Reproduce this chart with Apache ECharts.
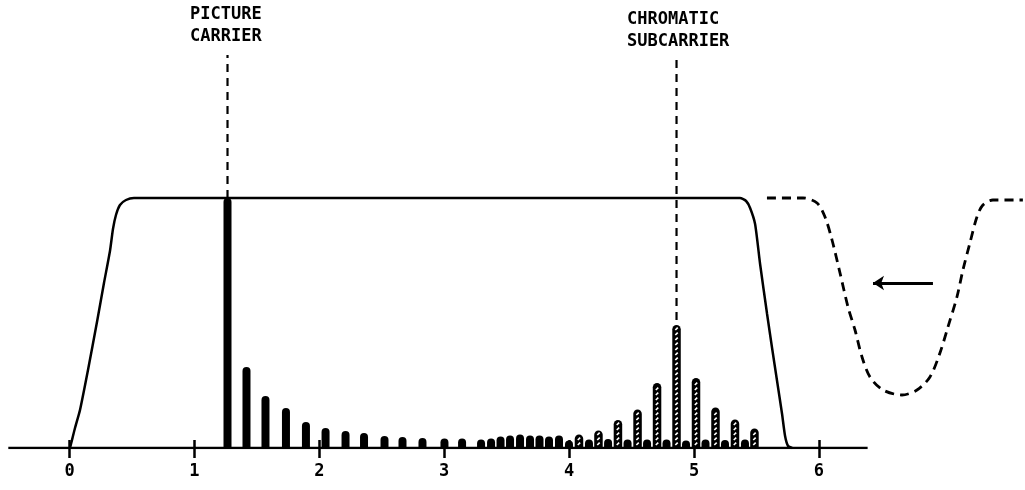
<!DOCTYPE html>
<html>
<head>
<meta charset="utf-8">
<script src="https://cdn.jsdelivr.net/npm/echarts@6/dist/echarts.min.js"></script>
<style>
  html, body { margin: 0; padding: 0; background: #fff; }
  #chart { width: 1025px; height: 490px; }
</style>
</head>
<body>
<div id="chart"></div>
<script>
// ---- data (frequency in MHz, relative amplitude with passband = 100) ----
const tickValues = [0, 1, 2, 3, 4, 5, 6];
const tickLabels = ['0', '1', '2', '3', '4', '5', '6'];

// luminance (black) spectral components
const lumaX = [1.265, 1.417, 1.569, 1.733, 1.893, 2.050, 2.210, 2.358, 2.522, 2.666, 2.826, 3.002, 3.143,
               3.295, 3.375, 3.451, 3.527, 3.607, 3.687, 3.763, 3.839, 3.919, 3.999,
               4.159, 4.312, 4.468, 4.624, 4.780, 4.936, 5.092, 5.248, 5.408];
const lumaY = [100, 32.4, 20.8, 16, 10.4, 8, 6.8, 6, 4.8, 4.4, 4, 3.8, 3.8,
               3.4, 3.8, 4.6, 5, 5.4, 5, 5, 4.6, 5, 3,
               3.4, 3.6, 3.4, 3.4, 3.4, 3, 3.4, 3.2, 3.4];

// chrominance (hatched) spectral components
const chromaX = [4.079, 4.235, 4.391, 4.548, 4.704, 4.860, 5.016, 5.172, 5.328, 5.484];
const chromaY = [5.4, 7, 11.2, 15.4, 26, 49.2, 28, 16.2, 11.4, 7.8];

// receiver passband (solid)
const passX = [0.004, 0.020, 0.044, 0.084, 0.148, 0.220, 0.276, 0.324, 0.348, 0.372, 0.404, 0.452, 0.516,
               5.368, 5.417, 5.449, 5.489, 5.529, 5.585, 5.625, 5.665, 5.705, 5.729, 5.753, 5.786];
const passY = [0, 3.2, 8, 15.2, 31.2, 50.4, 66, 78.8, 87.6, 93.2, 97.2, 99.2, 100,
               100, 98.8, 96, 89.6, 73.6, 53.6, 40, 26.8, 13.6, 4.8, 0.8, 0];

// trap response (dashed)
const trapX = [5.584, 5.873, 5.985, 6.049, 6.105, 6.169, 6.233, 6.289, 6.345, 6.409, 6.513, 6.665,
               6.785, 6.889, 6.969, 7.033, 7.105, 7.153, 7.209, 7.265, 7.313, 7.393, 7.633];
const trapY = [100, 100, 98, 92.4, 83.2, 70, 56.4, 47.2, 36.4, 28.4, 23.2, 21.2,
               23.2, 28.4, 38, 48.4, 60.4, 71.2, 82, 92.4, 97.2, 99.2, 99.2];

// carrier marker lines: [x, yBottom, yTop]
const pictureCarrierLine = [1.265, 100, 157.2];
const chromaCarrierLine = [4.860, 49.2, 157.2];

const arrowFrom = [6.913, 66];
const arrowTo = [6.433, 66];
const baselineX = [-0.49, 6.39];

const annotations = ['PICTURE\nCARRIER', 'CHROMATIC\nSUBCARRIER'];

// ---- chart ----
const zip = (xs, ys) => xs.map((x, i) => [x, ys[i]]);
const chart = echarts.init(document.getElementById('chart'), null, { renderer: 'canvas' });

const labelFont = "'DejaVu Sans Mono', monospace";

const option = {
  animation: false,
  backgroundColor: '#fff',
  grid: { left: 0, right: 0, top: 0, bottom: 42, containLabel: false },
  xAxis: [
    {
      type: 'value', min: -0.5565, max: 7.650, position: 'bottom',
      axisLine: { show: false },
      splitLine: { show: false },
      axisTick: { show: true, inside: true, length: 8, customValues: tickValues,
                  lineStyle: { color: '#000', width: 2.5 } },
      axisLabel: { show: true, customValues: tickValues, margin: 15,
                   formatter: v => tickLabels[tickValues.indexOf(Math.round(v))] || '',
                   color: '#000', fontFamily: labelFont, fontWeight: 'bold', fontSize: 17 }
    },
    {
      type: 'value', min: -0.5565, max: 7.650, position: 'bottom', offset: 0,
      axisLine: { show: false },
      splitLine: { show: false },
      axisTick: { show: true, inside: false, length: 10, customValues: tickValues,
                  lineStyle: { color: '#000', width: 2.5 } },
      axisLabel: { show: false }
    }
  ],
  yAxis: { type: 'value', min: 0, max: 179.2, show: false },
  graphic: [
    { type: 'text', left: 190, top: 4, z: 10,
      style: { text: annotations[0], font: "bold 17px 'DejaVu Sans Mono'", fill: '#000', lineHeight: 21.5 } },
    { type: 'text', left: 627, top: 9, z: 10,
      style: { text: annotations[1], font: "bold 17px 'DejaVu Sans Mono'", fill: '#000', lineHeight: 21.5 } }
  ],
  series: [
    {
      type: 'line', name: 'baseline', data: baselineX.map(x => [x, 0]),
      symbol: 'none', lineStyle: { color: '#000', width: 2.5 }, z: 3
    },
    {
      type: 'bar', name: 'luma', data: zip(lumaX, lumaY), barWidth: 8,
      itemStyle: { color: '#000', borderRadius: [4, 4, 0, 0] }, z: 4
    },
    {
      type: 'custom', name: 'chroma', data: zip(chromaX, chromaY), z: 4,
      renderItem: (params, api) => {
        const x = api.value(0), y = api.value(1);
        const top = api.coord([x, y]);
        const base = api.coord([x, 0]);
        const w = 8.5;
        const children = [{
          type: 'rect',
          shape: { x: top[0] - w / 2, y: top[1], width: w, height: base[1] - top[1], r: [4.25, 4.25, 0, 0] },
          style: { fill: '#000' }
        }];
        for (let yy = base[1] - 3; yy > top[1] + 4; yy -= 5) {
          children.push({
            type: 'line',
            shape: { x1: top[0] - 1.2, y1: yy, x2: top[0] + 1.2, y2: yy - 2.4 },
            style: { stroke: '#fff', lineWidth: 1.6 }
          });
        }
        return { type: 'group', children };
      }
    },
    {
      type: 'line', name: 'passband', data: zip(passX, passY),
      symbol: 'none', smooth: 0.2, lineStyle: { color: '#000', width: 2.5 }, z: 5
    },
    {
      type: 'line', name: 'trap', data: zip(trapX, trapY),
      symbol: 'none', smooth: 0.3, lineStyle: { color: '#000', width: 2.8, type: [9, 6] }, z: 5
    },
    {
      type: 'line', name: 'picture carrier marker',
      data: [[pictureCarrierLine[0], pictureCarrierLine[1]], [pictureCarrierLine[0], pictureCarrierLine[2]]],
      symbol: 'none', lineStyle: { color: '#000', width: 2.2, type: [8, 6] }, z: 5
    },
    {
      type: 'line', name: 'chroma subcarrier marker',
      data: [[chromaCarrierLine[0], chromaCarrierLine[1] + 2], [chromaCarrierLine[0], chromaCarrierLine[2]]],
      symbol: 'none', lineStyle: { color: '#000', width: 2.2, type: [8, 6] }, z: 5
    },
    {
      type: 'lines', name: 'arrow', coordinateSystem: 'cartesian2d',
      data: [{ coords: [arrowFrom, arrowTo] }],
      symbol: ['none', 'arrow'], symbolSize: 11,
      lineStyle: { color: '#000', width: 2.8, opacity: 1 }, z: 5
    }
  ]
};
chart.setOption(option);
</script>
</body>
</html>
